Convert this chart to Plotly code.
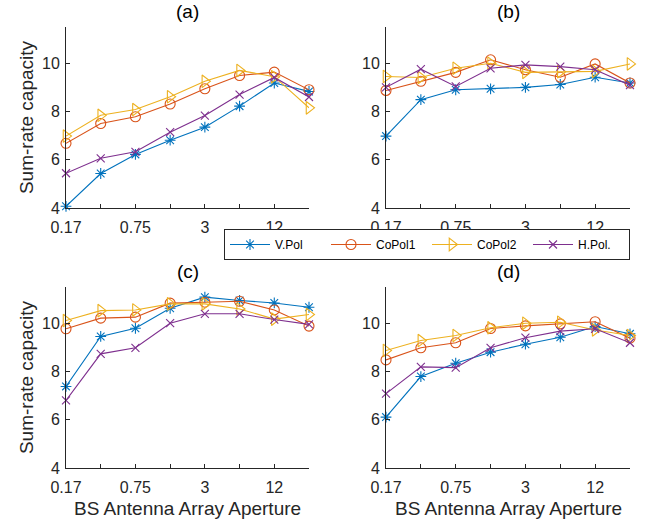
import plotly.graph_objects as go

positions = [0, 1, 2, 3, 4, 5, 6, 7]
tick_labels = ["0.17", "", "0.75", "", "3", "", "12", ""]
series_names = ["V.Pol", "CoPol1", "CoPol2", "H.Pol."]
panel_titles = ["(a)", "(b)", "(c)", "(d)"]

a_vpol = [4.07, 5.43, 6.22, 6.81, 7.35, 8.22, 9.18, 8.83]
a_copol1 = [6.68, 7.50, 7.78, 8.31, 8.94, 9.49, 9.63, 8.90]
a_copol2 = [6.98, 7.84, 8.08, 8.61, 9.25, 9.70, 9.44, 8.15]
a_hpol = [5.44, 6.06, 6.33, 7.14, 7.83, 8.70, 9.41, 8.60]

b_vpol = [6.98, 8.49, 8.90, 8.94, 9.00, 9.12, 9.42, 9.18]
b_copol1 = [8.87, 9.25, 9.62, 10.14, 9.73, 9.42, 9.97, 9.18]
b_copol2 = [9.45, 9.41, 9.79, 10.00, 9.62, 9.65, 9.66, 9.97]
b_hpol = [9.00, 9.75, 9.04, 9.79, 9.93, 9.86, 9.73, 9.09]

c_vpol = [7.38, 9.45, 9.79, 10.62, 11.08, 10.94, 10.84, 10.66]
c_copol1 = [9.77, 10.21, 10.25, 10.83, 10.87, 10.91, 10.55, 9.88]
c_copol2 = [10.11, 10.52, 10.55, 10.80, 10.80, 10.59, 10.17, 10.36]
c_hpol = [6.80, 8.73, 8.98, 10.00, 10.39, 10.39, 10.15, 9.95]

d_vpol = [6.11, 7.79, 8.34, 8.80, 9.13, 9.42, 9.86, 9.56]
d_copol1 = [8.48, 8.98, 9.19, 9.78, 9.89, 9.97, 10.06, 9.38]
d_copol2 = [8.87, 9.28, 9.49, 9.81, 10.00, 10.04, 9.72, 9.49]
d_hpol = [7.08, 8.19, 8.16, 8.98, 9.40, 9.67, 9.77, 9.19]

panels = [
    [a_vpol, a_copol1, a_copol2, a_hpol],
    [b_vpol, b_copol1, b_copol2, b_hpol],
    [c_vpol, c_copol1, c_copol2, c_hpol],
    [d_vpol, d_copol1, d_copol2, d_hpol],
]

colors = ["#0072BD", "#D95319", "#EDB120", "#7E2F8E"]
symbols = ["asterisk-open", "circle-open", "triangle-right-open", "x-thin-open"]
msizes = [9, 10, 11, 8]

W, H = 660, 523
FONT = "Liberation Sans, Arial, sans-serif"
AX = "#262626"

# pixel boxes: (left, right, top, bottom)
boxes = [(66, 309, 27, 208), (386, 630, 27, 208),
         (66, 309, 287, 468), (386, 630, 287, 468)]

fig = go.Figure()
layout = {}
for i, (box, data) in enumerate(zip(boxes, panels)):
    l, r, t, b = box
    n = "" if i == 0 else str(i + 1)
    xd = [l / W, r / W]
    yd = [1 - b / H, 1 - t / H]
    for j in range(4):
        fig.add_trace(go.Scatter(
            x=positions, y=data[j], mode="lines+markers",
            name=series_names[j], showlegend=(i == 0),
            line=dict(color=colors[j], width=1.1),
            marker=dict(symbol=symbols[j], size=msizes[j], color=colors[j],
                        line=dict(color=colors[j], width=1.1)),
            xaxis="x" + n, yaxis="y" + n, cliponaxis=False,
        ))
    layout["xaxis" + n] = dict(
        domain=xd, anchor="y" + n, range=[0, 7], automargin=False,
        tickmode="array", tickvals=positions, ticktext=tick_labels,
        ticks="inside", ticklen=4, tickcolor=AX, showline=True, linecolor=AX,
        linewidth=1, showgrid=False, zeroline=False, ticklabelstandoff=5,
        tickfont=dict(size=16, color=AX, family=FONT),
    )
    layout["yaxis" + n] = dict(
        domain=yd, anchor="x" + n, range=[4, 11.5], automargin=False,
        tickmode="array", tickvals=[4, 6, 8, 10],
        ticks="inside", ticklen=4, tickcolor=AX, showline=True, linecolor=AX,
        linewidth=1, showgrid=False, zeroline=False, ticklabelstandoff=2,
        tickfont=dict(size=16, color=AX, family=FONT),
        title=dict(text="Sum-rate capacity" if i % 2 == 0 else "",
                   font=dict(size=19, color=AX, family=FONT), standoff=3),
    )
    fig.add_annotation(
        text=panel_titles[i], x=(l + r) / 2 / W, y=1 - (t - 3) / H,
        xref="paper", yref="paper", xanchor="center", yanchor="bottom",
        showarrow=False, font=dict(size=19, color="#000000", family=FONT),
    )
    if i >= 2:
        fig.add_annotation(
            text="BS Antenna Array Aperture", x=(l + r) / 2 / W, y=1 - 508 / H,
            xref="paper", yref="paper", xanchor="center", yanchor="middle",
            showarrow=False, font=dict(size=19, color=AX, family=FONT),
        )

fig.update_layout(
    width=W, height=H, margin=dict(l=0, r=0, t=0, b=0, autoexpand=False),
    paper_bgcolor="white", plot_bgcolor="white",
    font=dict(family=FONT, color=AX),
    legend=dict(
        orientation="h", x=427 / W, y=1 - 229 / H, xanchor="center", yanchor="top",
        bordercolor="#262626", borderwidth=1, bgcolor="white",
        font=dict(size=12, color="#000000", family=FONT),
        entrywidth=46, entrywidthmode="pixels", itemwidth=40,
        tracegroupgap=0,
    ),
    **layout,
)

fig.write_html("out.html", config={"displayModeBar": False},
               post_script="document.body.style.margin='0';document.body.style.overflow='hidden';")
